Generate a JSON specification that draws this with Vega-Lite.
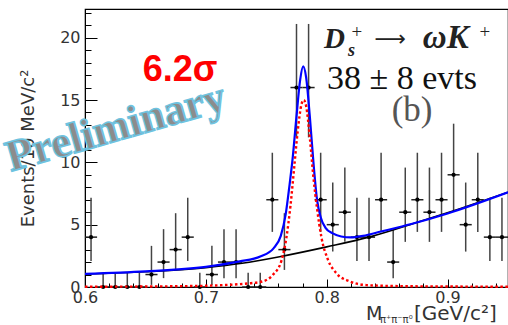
{
  "$schema": "https://vega.github.io/schema/vega-lite/v6.json",
  "width": 423,
  "height": 278,
  "autosize": "none",
  "padding": {"left": 85, "top": 9, "right": 0, "bottom": 38},
  "background": "white",
  "config": {
    "view": {"stroke": "black", "strokeWidth": 1.2},
    "axis": {
      "labelFont": "DejaVu Sans",
      "labelFontSize": 16,
      "labelColor": "#333333",
      "titleFont": "DejaVu Sans",
      "titleFontWeight": "normal",
      "titleColor": "#333333",
      "domainColor": "black",
      "tickColor": "black",
      "tickWidth": 1,
      "grid": false,
      "labelFlush": false,
      "labelOverlap": false,
      "labelBound": false
    }
  },
  "resolve": {"axis": {"x": "independent", "y": "independent"}},
  "datasets": {
    "pts": [
      {"m": 0.605, "x0": 0.600, "x1": 0.610, "n": 4, "lo": 2.09, "hi": 7.16},
      {"m": 0.615, "x0": 0.610, "x1": 0.620, "n": 0, "lo": 0, "hi": 1.15},
      {"m": 0.625, "x0": 0.620, "x1": 0.630, "n": 0, "lo": 0, "hi": 1.15},
      {"m": 0.635, "x0": 0.630, "x1": 0.640, "n": 0, "lo": 0, "hi": 1.15},
      {"m": 0.645, "x0": 0.640, "x1": 0.650, "n": 0, "lo": 0, "hi": 1.15},
      {"m": 0.655, "x0": 0.650, "x1": 0.660, "n": 1, "lo": 0.17, "hi": 3.30},
      {"m": 0.665, "x0": 0.660, "x1": 0.670, "n": 2, "lo": 0.71, "hi": 4.64},
      {"m": 0.675, "x0": 0.670, "x1": 0.680, "n": 3, "lo": 1.37, "hi": 5.92},
      {"m": 0.685, "x0": 0.680, "x1": 0.690, "n": 4, "lo": 2.09, "hi": 7.16},
      {"m": 0.695, "x0": 0.690, "x1": 0.700, "n": 0, "lo": 0, "hi": 1.15},
      {"m": 0.705, "x0": 0.700, "x1": 0.710, "n": 1, "lo": 0.17, "hi": 3.30},
      {"m": 0.715, "x0": 0.710, "x1": 0.720, "n": 2, "lo": 0.71, "hi": 4.64},
      {"m": 0.725, "x0": 0.720, "x1": 0.730, "n": 2, "lo": 0.71, "hi": 4.64},
      {"m": 0.735, "x0": 0.730, "x1": 0.740, "n": 0, "lo": 0, "hi": 1.15},
      {"m": 0.745, "x0": 0.740, "x1": 0.750, "n": 0, "lo": 0, "hi": 1.15},
      {"m": 0.755, "x0": 0.750, "x1": 0.760, "n": 7, "lo": 4.42, "hi": 10.77},
      {"m": 0.765, "x0": 0.760, "x1": 0.770, "n": 3, "lo": 1.37, "hi": 5.92},
      {"m": 0.775, "x0": 0.770, "x1": 0.780, "n": 16, "lo": 12.0, "hi": 21.1},
      {"m": 0.785, "x0": 0.780, "x1": 0.790, "n": 16, "lo": 12.0, "hi": 21.1},
      {"m": 0.795, "x0": 0.790, "x1": 0.800, "n": 7, "lo": 4.42, "hi": 10.77},
      {"m": 0.805, "x0": 0.800, "x1": 0.810, "n": 5, "lo": 2.84, "hi": 8.38},
      {"m": 0.815, "x0": 0.810, "x1": 0.820, "n": 6, "lo": 3.62, "hi": 9.58},
      {"m": 0.825, "x0": 0.820, "x1": 0.830, "n": 4, "lo": 2.09, "hi": 7.16},
      {"m": 0.835, "x0": 0.830, "x1": 0.840, "n": 4, "lo": 2.09, "hi": 7.16},
      {"m": 0.845, "x0": 0.840, "x1": 0.850, "n": 7, "lo": 4.42, "hi": 10.77},
      {"m": 0.855, "x0": 0.850, "x1": 0.860, "n": 2, "lo": 0.71, "hi": 4.64},
      {"m": 0.865, "x0": 0.860, "x1": 0.870, "n": 6, "lo": 3.62, "hi": 9.58},
      {"m": 0.875, "x0": 0.870, "x1": 0.880, "n": 7, "lo": 4.42, "hi": 10.77},
      {"m": 0.885, "x0": 0.880, "x1": 0.890, "n": 6, "lo": 3.62, "hi": 9.58},
      {"m": 0.895, "x0": 0.890, "x1": 0.900, "n": 7, "lo": 4.42, "hi": 10.77},
      {"m": 0.905, "x0": 0.900, "x1": 0.910, "n": 9, "lo": 6.10, "hi": 13.10},
      {"m": 0.915, "x0": 0.910, "x1": 0.920, "n": 5, "lo": 2.84, "hi": 8.38},
      {"m": 0.925, "x0": 0.920, "x1": 0.930, "n": 7, "lo": 4.42, "hi": 10.77},
      {"m": 0.935, "x0": 0.930, "x1": 0.940, "n": 4, "lo": 2.09, "hi": 7.16},
      {"m": 0.945, "x0": 0.940, "x1": 0.950, "n": 4, "lo": 2.09, "hi": 7.16}
    ],
    "bkg": [
      {"m": 0.600, "v": 1.04},
      {"m": 0.650, "v": 1.22},
      {"m": 0.700, "v": 1.55},
      {"m": 0.730, "v": 1.90},
      {"m": 0.761, "v": 2.43},
      {"m": 0.800, "v": 3.22},
      {"m": 0.835, "v": 4.00},
      {"m": 0.877, "v": 5.25},
      {"m": 0.907, "v": 6.18},
      {"m": 0.950, "v": 7.60}
    ],
    "tot": [
      {"m": 0.600, "v": 1.05},
      {"m": 0.650, "v": 1.25},
      {"m": 0.700, "v": 1.62},
      {"m": 0.728, "v": 2.05},
      {"m": 0.745, "v": 2.45},
      {"m": 0.756, "v": 3.1},
      {"m": 0.762, "v": 4.1},
      {"m": 0.766, "v": 5.8},
      {"m": 0.769, "v": 8.0},
      {"m": 0.772, "v": 10.5},
      {"m": 0.775, "v": 13.7},
      {"m": 0.778, "v": 16.6},
      {"m": 0.7805, "v": 17.7},
      {"m": 0.783, "v": 16.8},
      {"m": 0.786, "v": 13.7},
      {"m": 0.789, "v": 10.0},
      {"m": 0.792, "v": 7.0},
      {"m": 0.795, "v": 5.6},
      {"m": 0.799, "v": 4.75},
      {"m": 0.805, "v": 4.3},
      {"m": 0.812, "v": 4.05},
      {"m": 0.820, "v": 3.98},
      {"m": 0.830, "v": 4.1},
      {"m": 0.845, "v": 4.45},
      {"m": 0.870, "v": 5.05},
      {"m": 0.900, "v": 5.9},
      {"m": 0.950, "v": 7.6}
    ],
    "sig": [
      {"m": 0.600, "v": 0.02},
      {"m": 0.650, "v": 0.04},
      {"m": 0.700, "v": 0.10},
      {"m": 0.720, "v": 0.18},
      {"m": 0.736, "v": 0.30},
      {"m": 0.747, "v": 0.45},
      {"m": 0.7557, "v": 1.0},
      {"m": 0.7625, "v": 2.1},
      {"m": 0.7667, "v": 4.0},
      {"m": 0.770, "v": 6.5},
      {"m": 0.773, "v": 9.5},
      {"m": 0.776, "v": 12.5},
      {"m": 0.779, "v": 14.6},
      {"m": 0.781, "v": 15.0},
      {"m": 0.783, "v": 14.5},
      {"m": 0.786, "v": 12.0},
      {"m": 0.789, "v": 8.8},
      {"m": 0.792, "v": 6.3},
      {"m": 0.7956, "v": 4.0},
      {"m": 0.801, "v": 2.2},
      {"m": 0.808, "v": 1.1},
      {"m": 0.819, "v": 0.45},
      {"m": 0.833, "v": 0.15},
      {"m": 0.860, "v": 0.07},
      {"m": 0.900, "v": 0.04},
      {"m": 0.950, "v": 0.02}
    ]
  },
  "layer": [
    {
      "data": {"name": "pts"},
      "mark": {"type": "rule", "color": "#444444", "strokeWidth": 1.5},
      "encoding": {
        "x": {
          "field": "m", "type": "quantitative",
          "scale": {"domain": [0.6, 0.95], "nice": false, "zero": false},
          "axis": {
            "orient": "bottom",
            "title": null,
            "values": [0.6, 0.7, 0.8, 0.9],
            "format": ".1f",
            "tickSize": -8,
            "labelPadding": 10,
            "labelOverlap": false
          }
        },
        "y": {
          "field": "lo", "type": "quantitative",
          "scale": {"domain": [0, 22.3], "nice": false, "zero": true},
          "axis": {
            "orient": "left",
            "title": "Events/10 MeV/c²",
            "titleFontSize": 18,
            "titlePadding": 22,
            "values": [0, 5, 10, 15, 20],
            "format": "d",
            "tickSize": -12,
            "labelPadding": 17,
            "labelOverlap": false
          }
        },
        "y2": {"field": "hi"}
      }
    },
    {
      "data": {"name": "pts"},
      "mark": {"type": "rule", "color": "#222222", "strokeWidth": 1.5},
      "encoding": {
        "x": {
          "field": "x0", "type": "quantitative",
          "axis": {
            "orient": "bottom",
            "title": null,
            "values": [0.62, 0.64, 0.66, 0.68, 0.72, 0.74, 0.76, 0.78, 0.82, 0.84, 0.86, 0.88, 0.92, 0.94],
            "labels": false,
            "domain": false,
            "tickSize": -4
          }
        },
        "x2": {"field": "x1"},
        "y": {
          "field": "n", "type": "quantitative",
          "axis": {
            "orient": "left",
            "title": null,
            "values": [1, 2, 3, 4, 6, 7, 8, 9, 11, 12, 13, 14, 16, 17, 18, 19, 21, 22],
            "labels": false,
            "domain": false,
            "tickSize": -6
          }
        }
      }
    },
    {
      "data": {"name": "pts"},
      "mark": {"type": "circle", "color": "black", "opacity": 1, "size": 18},
      "encoding": {
        "x": {"field": "m", "type": "quantitative", "axis": null},
        "y": {"field": "n", "type": "quantitative", "axis": null}
      }
    },
    {
      "data": {"name": "bkg"},
      "mark": {"type": "line", "color": "black", "strokeWidth": 1.6, "interpolate": "monotone"},
      "encoding": {
        "x": {"field": "m", "type": "quantitative", "axis": null},
        "y": {"field": "v", "type": "quantitative", "axis": null}
      }
    },
    {
      "data": {"name": "tot"},
      "mark": {"type": "line", "color": "#0000ff", "strokeWidth": 2.2, "interpolate": "monotone"},
      "encoding": {
        "x": {"field": "m", "type": "quantitative", "axis": null},
        "y": {"field": "v", "type": "quantitative", "axis": null}
      }
    },
    {
      "data": {"name": "sig"},
      "mark": {"type": "line", "color": "#ff0000", "strokeWidth": 2.4, "strokeDash": [2.5, 2.5], "interpolate": "monotone"},
      "encoding": {
        "x": {"field": "m", "type": "quantitative", "axis": null},
        "y": {"field": "v", "type": "quantitative", "axis": null}
      }
    },
    {
      "data": {"values": [{}]},
      "mark": {"type": "text", "text": "6.2σ", "font": "Liberation Sans", "fontWeight": "bold", "fontSize": 36, "color": "#ff0000", "align": "center", "baseline": "alphabetic"},
      "encoding": {"x": {"datum": 0.6786, "axis": null}, "y": {"datum": 16.55, "axis": null}}
    },
    {
      "data": {"values": [{}]},
      "mark": {"type": "text", "text": "D", "font": "Liberation Serif", "fontWeight": "bold", "fontStyle": "italic", "fontSize": 29, "color": "#222222", "align": "left", "baseline": "alphabetic"},
      "encoding": {"x": {"datum": 0.7978, "axis": null}, "y": {"datum": 19.2, "axis": null}}
    },
    {
      "data": {"values": [{}]},
      "mark": {"type": "text", "text": "s", "font": "Liberation Serif", "fontWeight": "bold", "fontStyle": "italic", "fontSize": 18, "color": "#222222", "align": "left", "baseline": "alphabetic"},
      "encoding": {"x": {"datum": 0.8176, "axis": null}, "y": {"datum": 18.5, "axis": null}}
    },
    {
      "data": {"values": [{}]},
      "mark": {"type": "text", "text": "+", "font": "Liberation Serif", "fontSize": 19, "color": "#222222", "align": "left", "baseline": "alphabetic"},
      "encoding": {"x": {"datum": 0.8205, "axis": null}, "y": {"datum": 19.95, "axis": null}}
    },
    {
      "data": {"values": [{}]},
      "mark": {"type": "text", "text": "⟶", "font": "DejaVu Sans", "fontSize": 22, "color": "#222222", "align": "left", "baseline": "alphabetic"},
      "encoding": {"x": {"datum": 0.8395, "axis": null}, "y": {"datum": 19.3, "axis": null}}
    },
    {
      "data": {"values": [{}]},
      "mark": {"type": "text", "text": "ωK", "font": "Liberation Serif", "fontWeight": "bold", "fontStyle": "italic", "fontSize": 33, "color": "#222222", "align": "left", "baseline": "alphabetic"},
      "encoding": {"x": {"datum": 0.8795, "axis": null}, "y": {"datum": 19.2, "axis": null}}
    },
    {
      "data": {"values": [{}]},
      "mark": {"type": "text", "text": "+", "font": "Liberation Serif", "fontSize": 19, "color": "#222222", "align": "left", "baseline": "alphabetic"},
      "encoding": {"x": {"datum": 0.9265, "axis": null}, "y": {"datum": 19.95, "axis": null}}
    },
    {
      "data": {"values": [{}]},
      "mark": {"type": "text", "text": "38 ± 8 evts", "font": "Liberation Serif", "fontSize": 34, "color": "#111111", "align": "center", "baseline": "alphabetic"},
      "encoding": {"x": {"datum": 0.8623, "axis": null}, "y": {"datum": 15.9, "axis": null}}
    },
    {
      "data": {"values": [{}]},
      "mark": {"type": "text", "text": "(b)", "font": "Liberation Serif", "fontSize": 35, "color": "#555555", "align": "center", "baseline": "alphabetic"},
      "encoding": {"x": {"datum": 0.8706, "axis": null}, "y": {"datum": 13.3, "axis": null}}
    },
    {
      "data": {"values": [{}]},
      "mark": {"type": "text", "text": "M", "font": "DejaVu Sans", "fontSize": 19, "color": "#333333", "align": "left", "baseline": "alphabetic"},
      "encoding": {"x": {"datum": 0.8325, "axis": null}, "y": {"datum": -2.62, "axis": null}}
    },
    {
      "data": {"values": [{}]},
      "mark": {"type": "text", "text": "π⁺π⁻π⁰", "font": "DejaVu Sans", "fontSize": 10, "color": "#333333", "align": "left", "baseline": "alphabetic"},
      "encoding": {"x": {"datum": 0.8441, "axis": null}, "y": {"datum": -2.85, "axis": null}}
    },
    {
      "data": {"values": [{}]},
      "mark": {"type": "text", "text": "[GeV/c²]", "font": "DejaVu Sans", "fontSize": 20, "color": "#333333", "align": "left", "baseline": "alphabetic"},
      "encoding": {"x": {"datum": 0.8722, "axis": null}, "y": {"datum": -2.62, "axis": null}}
    },
    {
      "data": {"values": [{}]},
      "mark": {"type": "text", "text": "Preliminary", "font": "Liberation Serif", "fontWeight": "bold", "fontSize": 44, "color": "#8c8c8c", "stroke": "#6ec3e0", "strokeWidth": 1.6, "angle": -16, "align": "center", "baseline": "middle"},
      "encoding": {"x": {"datum": 0.6257, "axis": null}, "y": {"datum": 12.77, "axis": null}}
    }
  ]
}
